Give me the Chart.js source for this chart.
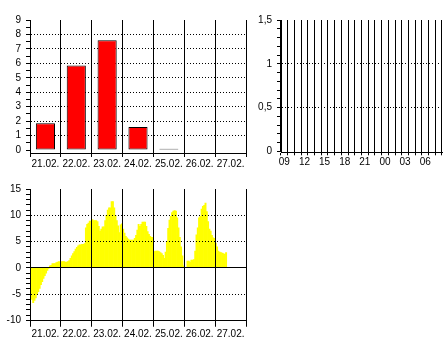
<!DOCTYPE html>
<html>
<head>
<meta charset="utf-8">
<script src="https://cdn.jsdelivr.net/npm/chart.js@4"></script>
<style>
  body { margin: 0; background: #fff; }
  canvas { position: absolute; }
  #rain { left: 0; top: 0; }
  #rainHourly { left: 250px; top: 0; }
  #temp { left: 0; top: 170px; }
</style>
</head>
<body>
<canvas id="rain" width="250" height="170"></canvas>
<canvas id="rainHourly" width="196" height="170"></canvas>
<canvas id="temp" width="250" height="170"></canvas>
<script>
// daily precipitation
const days = ['21.02.', '22.02.', '23.02.', '24.02.', '25.02.', '26.02.', '27.02.'];
const precipitation = [1.85, 5.85, 7.6, 1.6, 0.1, 0, 0];

// hourly precipitation, next 24 h
const hours = ['09', '10', '11', '12', '13', '14', '15', '16', '17', '18', '19', '20',
               '21', '22', '23', '00', '01', '02', '03', '04', '05', '06', '07', '08'];
const hourlyPrecip = [0, 0, 0, 0, 0, 0, 0, 0, 0, 0, 0, 0,
                      0, 0, 0, 0, 0, 0, 0, 0, 0, 0, 0, 0];

// hourly temperature per day
const tempDay1 = [-5.5, -6.0, -6.6, -6.2, -5.7, -5.1, -4.5, -3.9, -3.2, -2.6, -2.0, -1.5,
                  -1.0, -0.5, -0.1, 0.4, 0.5, 0.8, 0.8, 0.8, 1.0, 1.1, 1.2, 1.1];
const tempDay2 = [1.2, 1.2, 1.2, 1.1, 1.1, 1.2, 1.4, 1.8, 2.3, 2.7, 3.1, 3.6,
                  3.9, 4.2, 4.4, 4.4, 4.5, 4.5, 4.6, 7.6, 8.3, 8.5, 8.9, 8.9];
const tempDay3 = [9.2, 9.0, 9.0, 9.0, 8.8, 7.9, 7.0, 7.4, 7.8, 7.8, 9.0, 10.0,
                  11.0, 11.4, 11.4, 12.6, 12.6, 11.4, 10.0, 9.0, 8.0, 6.7, 8.2, 8.4];
const tempDay4 = [7.4, 6.6, 6.0, 5.7, 5.5, 5.3, 5.3, 5.3, 5.3, 5.6, 6.2, 7.2,
                  8.3, 7.9, 8.3, 8.7, 8.7, 8.7, 7.9, 6.9, 6.4, 6.0, 5.8, 5.8];
const tempDay5 = [3.1, 3.2, 3.2, 3.2, 3.1, 2.9, 2.7, 2.4, 1.8, 3.0, 5.0, 7.5,
                  9.1, 9.8, 10.5, 10.8, 10.9, 10.8, 9.5, 7.6, 5.8, 4.0, 2.3, 0.4];
const tempDay6 = [null, null, 1.3, 1.3, 1.1, 1.5, 1.5, 1.6, 3.2, 6.3, 7.6, 9.5,
                  9.8, 11.2, 11.7, 11.9, 12.3, 10.7, 8.8, 7.4, 7.0, 6.2, 5.7, 5.6];
const tempDay7 = [4.7, 4.0, 3.2, 3.0, 2.9, 2.8, 2.7, 2.6, 2.9];
const temperature = [...tempDay1, ...tempDay2, ...tempDay3, ...tempDay4,
                     ...tempDay5, ...tempDay6, ...tempDay7];
const tempHours = days.flatMap(d => Array.from({length: 24}, (_, h) => d + ' ' + h));

Chart.defaults.font.family = "'Liberation Sans Narrow', 'Liberation Sans', Arial, sans-serif";
Chart.defaults.font.size = 10;
Chart.defaults.color = '#000';
Chart.defaults.animation = false;
Chart.defaults.plugins.legend.display = false;
Chart.defaults.plugins.tooltip.enabled = false;

const dotted = [1, 2];
const none = 'rgba(0,0,0,0)';

function tickList(from, to, step) {
  const out = [];
  for (let i = 0; from + i * step <= to + 1e-9; i++) out.push(+(from + i * step).toFixed(2));
  return out;
}

function valueAxis(min, max, tickValues, labelFn, gridFn, width) {
  return {
    min: min,
    max: max,
    afterBuildTicks: s => { s.ticks = tickValues.map(v => ({value: v})); },
    afterFit: s => { s.width = width; },
    ticks: { autoSkip: false, padding: 5, callback: labelFn },
    grid: { color: c => gridFn(c.tick.value), tickColor: '#000', tickLength: 4 },
    border: { color: '#000', dash: c => (c.tick && c.tick.value === 0) ? [] : dotted }
  };
}

function dayAxis(labels, height, tickLength, pad) {
  return {
    type: 'category',
    labels: labels,
    offset: true,
    afterFit: s => { s.height = height; },
    ticks: { autoSkip: false, maxRotation: 0, padding: pad },
    grid: { offset: true, color: '#000', tickColor: '#000', tickLength: tickLength },
    border: { color: '#000' }
  };
}

// top left: daily precipitation
new Chart(document.getElementById('rain'), {
  type: 'bar',
  data: {
    labels: days,
    datasets: [{
      data: precipitation,
      backgroundColor: '#ff0000',
      borderColor: '#000',
      borderWidth: 1,
      borderSkipped: false,
      barPercentage: 0.62,
      categoryPercentage: 1
    }]
  },
  options: {
    responsive: false,
    layout: { padding: { top: 20, right: 4 } },
    scales: {
      x: dayAxis(days, 17, 4, 1),
      y: valueAxis(-0.2, 9, tickList(0, 9, 0.5),
        v => Number.isInteger(v) ? v : '',
        v => (Number.isInteger(v) && v > 0 && v < 9) ? '#000' : none, 30)
    }
  }
});

// top right: hourly precipitation
new Chart(document.getElementById('rainHourly'), {
  type: 'bar',
  data: {
    labels: hours,
    datasets: [{
      data: hourlyPrecip,
      backgroundColor: '#ff0000',
      borderColor: '#000',
      borderWidth: 1,
      barPercentage: 0.62,
      categoryPercentage: 1
    }]
  },
  options: {
    responsive: false,
    layout: { padding: { top: 20, right: 4 } },
    scales: {
      x: {
        type: 'category',
        offset: true,
        afterFit: s => { s.height = 17.7; },
        ticks: { autoSkip: false, maxRotation: 0, padding: 1,
                 callback: (v, i) => i % 3 === 0 ? hours[i] : '' },
        grid: { offset: true, color: '#000', tickColor: '#000', tickLength: 3 },
        border: { color: '#000' }
      },
      y: valueAxis(-0.012, 1.5, tickList(0, 1.5, 0.1),
        v => [0, 0.5, 1, 1.5].includes(v) ? String(v).replace('.', ',') : '',
        v => (v === 0.5 || v === 1) ? '#000' : none, 31)
    }
  }
});

// bottom: hourly temperature
new Chart(document.getElementById('temp'), {
  type: 'bar',
  data: {
    labels: tempHours,
    datasets: [{
      data: temperature,
      backgroundColor: '#ffff00',
      borderWidth: 0,
      barPercentage: 1,
      categoryPercentage: 1,
      xAxisID: 'x',
      yAxisID: 'y'
    }]
  },
  options: {
    responsive: false,
    layout: { padding: { top: 19, right: 4 } },
    scales: {
      x: { type: 'category', offset: true, display: false },
      days: Object.assign(dayAxis(days, 19.5, 6, 2), { position: 'bottom' }),
      y: valueAxis(-10, 15, tickList(-10, 15, 1),
        v => v % 5 === 0 ? v : '',
        v => (v % 5 === 0 && v > -10 && v < 15) ? '#000' : none, 30)
    }
  },
  plugins: [{
    id: 'gridOnTop',
    afterDatasetsDraw(chart) {
      // grid lines run over the yellow area in the original
      chart.scales.days.drawGrid(chart.chartArea);
      chart.scales.y.drawGrid(chart.chartArea);
    }
  }]
});
</script>
</body>
</html>
